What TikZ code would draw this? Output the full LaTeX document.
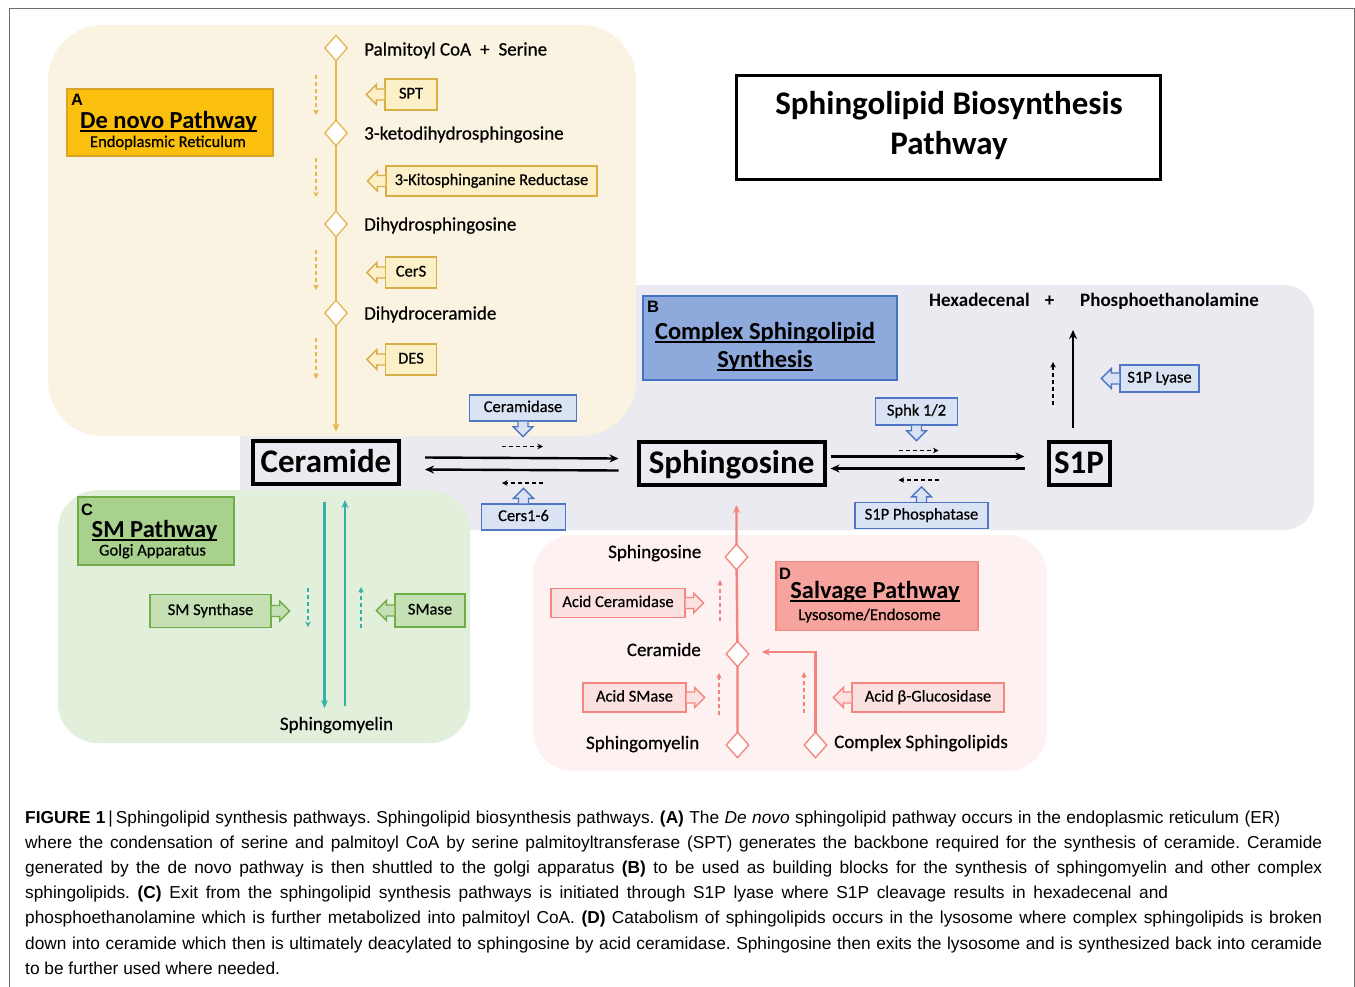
\documentclass[tikz,border=0pt]{standalone}
\usepackage{fontspec}
\setmainfont{Carlito}
\newfontfamily\capfont{Liberation Sans}
\newfontfamily\semib[FakeBold=0.5]{Carlito}
\usetikzlibrary{arrows.meta,shapes.geometric,calc}
\frenchspacing
\definecolor{panA}{HTML}{FBF3E2}
\definecolor{panB}{HTML}{EAEAF0}
\definecolor{panC}{HTML}{E2EFDA}
\definecolor{panD}{HTML}{FDF1F1}
\definecolor{yLine}{HTML}{E8B64E}
\definecolor{yFill}{HTML}{FCF0C8}
\definecolor{yBd}{HTML}{D9AE45}
\definecolor{colA}{HTML}{FBBF0E}
\definecolor{colAbd}{HTML}{D9A22A}
\definecolor{bFill}{HTML}{DAE3F3}
\definecolor{bBd}{HTML}{4F76C4}
\definecolor{colB}{HTML}{8EA9DB}
\definecolor{colBbd}{HTML}{4472C4}
\definecolor{gFill}{HTML}{C5E0B4}
\definecolor{gBd}{HTML}{70AD47}
\definecolor{colC}{HTML}{A9D18E}
\definecolor{tealA}{HTML}{33B2A6}
\definecolor{rFill}{HTML}{FBE2E0}
\definecolor{rBd}{HTML}{F4857F}
\definecolor{colD}{HTML}{F7A39E}
\definecolor{rLine}{HTML}{F4837D}
\definecolor{frameC}{HTML}{6E6E6E}
\newcommand\myul[1]{{\sbox0{#1}\rlap{\rule[-3.5pt]{\wd0}{1.7pt}}\usebox0}}
\newcommand\ptrL[2]{\filldraw[#2,line width=1.3pt,line join=miter] (#1.west) ++(0,5.5) -- ++(-8,0) -- ++(0,4.5) -- ++(-10,-10) -- ++(10,-10) -- ++(0,4.5) -- ++(8,0);}
\newcommand\ptrR[2]{\filldraw[#2,line width=1.3pt,line join=miter] (#1.east) ++(0,5.5) -- ++(8,0) -- ++(0,4.5) -- ++(10,-10) -- ++(-10,-10) -- ++(0,4.5) -- ++(-8,0);}
\newcommand\ptrD[2]{\filldraw[#2,line width=1.3pt,line join=miter] (#1.south) ++(5,0) -- ++(0,5) -- ++(5,0) -- ++(-10,10) -- ++(-10,-10) -- ++(5,0) -- ++(0,-5);}
\newcommand\ptrU[2]{\filldraw[#2,line width=1.3pt,line join=miter] (#1.north) ++(5,0) -- ++(0,-5) -- ++(5,0) -- ++(-10,-10) -- ++(-10,10) -- ++(5,0) -- ++(0,5);}
\begin{document}
\begin{tikzpicture}[x=1pt,y=-1pt,
  lbl/.style={inner sep=0pt,font=\semib\fontsize{19}{22}\selectfont},
  enz/.style={draw,line width=1.3pt,inner sep=0pt,font=\semib\fontsize{16.5}{19}\selectfont,text height=11pt,text depth=3pt},
  ybox/.style={enz,draw=yBd,fill=yFill},
  bbox/.style={enz,draw=bBd,fill=bFill},
  gbox/.style={enz,draw=gBd,fill=gFill},
  rbox/.style={enz,draw=rBd,fill=rFill},
  diam/.style={diamond,fill=white,line width=1.3pt,minimum width=23pt,minimum height=26pt,inner sep=0pt},
  big/.style={draw=black,line width=4pt,inner sep=0pt,font=\bfseries\fontsize{33}{40}\selectfont,text height=24pt,text depth=4pt},
  main/.style={line width=2.4pt,-{Stealth[length=9pt,width=8pt]}},
  dsh/.style={line width=1.1pt,dash pattern=on 4pt off 3pt,-{Stealth[length=5.5pt,width=5.5pt]}},
  labbox/.style={line width=1.3pt,inner sep=0pt},
  letter/.style={inner sep=0pt,anchor=base west,font=\capfont\bfseries\fontsize{16.5}{18}\selectfont},
  head/.style={inner sep=0pt,anchor=base,font=\bfseries\fontsize{24.5}{28}\selectfont},
  sub/.style={inner sep=0pt,anchor=base,font=\semib\fontsize{16.5}{19}\selectfont},
  capline/.style={inner sep=0pt,anchor=base west,font=\capfont\fontsize{17.3}{20}\selectfont}
]
\useasboundingbox (0,0) rectangle (1355,986);
\fill[white] (0,0) rectangle (1355,986);
\draw[frameC,line width=1.3pt] (9.5,990) -- (9.5,8.5) -- (1354.5,8.5) -- (1354.5,990);

% panels
\fill[panB,rounded corners=30pt] (240,285) rectangle (1314,530);
\fill[panA,rounded corners=55pt] (48,25) rectangle (636,436);
\fill[panC,rounded corners=40pt] (58,490) rectangle (470,743);
\fill[panD,rounded corners=40pt] (533,535) rectangle (1047,771);

% title
\node[draw,line width=3pt,minimum width=424pt,minimum height=104pt,inner sep=0pt] (title) at (948,127) {};
\node[inner sep=0pt,anchor=base,font=\bfseries\fontsize{33}{40}\selectfont] (title1) at (949,114) {Sphingolipid Biosynthesis};
\node[inner sep=0pt,anchor=base,font=\bfseries\fontsize{33}{40}\selectfont] (title2) at (949,154) {Pathway};

% main nodes
\node[big,minimum width=146pt,minimum height=43pt] (cer) at (326,462) {Ceramide};
\node[big,minimum width=186pt,minimum height=43pt] (sph) at (731.5,463) {Sphingosine};
\node[big,minimum width=61pt,minimum height=43pt] (s1p) at (1079,463) {S1P};

% ---------------- Panel A ----------------
\node[labbox,draw=colAbd,fill=colA,minimum width=206pt,minimum height=67pt] (labA) at (170,122.5) {};
\node[letter] (letA) at (71,105) {A};
\node[head] (headA) at (168.5,128) {\myul{De novo Pathway}};
\node[sub] (subA) at (168,147) {Endoplasmic Reticulum};

\coordinate (a1) at (336,48);
\coordinate (a2) at (336,133);
\coordinate (a3) at (336,224);
\coordinate (a4) at (336,313);
\draw[yLine,line width=2pt,-{Stealth[length=8pt,width=7pt]},shorten >=7pt] (a1) -- (a1 |- cer.north);
\node[diam,draw=yLine] (da1) at (a1) {};
\node[diam,draw=yLine] (da2) at (a2) {};
\node[diam,draw=yLine] (da3) at (a3) {};
\node[diam,draw=yLine] (da4) at (a4) {};
\node[lbl,anchor=base west] (tPal) at (364,55.5) {Palmitoyl CoA\hspace{9pt}+\hspace{9pt}Serine};
\node[lbl,anchor=base west] (tKeto) at (364,139.5) {3-ketodihydrosphingosine};
\node[lbl,anchor=base west] (tDhs) at (364,230.5) {Dihydrosphingosine};
\node[lbl,anchor=base west] (tDhc) at (364,319.5) {Dihydroceramide};

\draw[yLine,dsh] ($(da1)+(-20,27)$) -- ($(da2)+(-20,-18)$);
\draw[yLine,dsh] ($(da2)+(-20,25)$) -- ($(da3)+(-20,-27)$);
\draw[yLine,dsh] ($(da3)+(-20,26)$) -- ($(da4)+(-20,-23)$);
\draw[yLine,dsh] ($(da4)+(-20,25)$) -- ($(da4)+(-20,66)$);

\node[ybox,minimum width=52pt,minimum height=31pt] (spt) at (411,94.5) {SPT};
\node[ybox,minimum width=211pt,minimum height=30pt] (ksr) at (491.5,181) {3-Kitosphinganine Reductase};
\node[ybox,minimum width=51pt,minimum height=31pt] (cers) at (411,272.5) {CerS};
\node[ybox,minimum width=51pt,minimum height=31pt] (des) at (411,359.5) {DES};
\ptrL{spt}{draw=yBd,fill=yFill}
\ptrL{ksr}{draw=yBd,fill=yFill}
\ptrL{cers}{draw=yBd,fill=yFill}
\ptrL{des}{draw=yBd,fill=yFill}

% ---------------- Panel B ----------------
\node[labbox,draw=colBbd,fill=colB,minimum width=254pt,minimum height=84pt] (labB) at (770,338) {};
\node[letter] (letB) at (647,312) {B};
\node[head] (headB1) at (765,339) {\myul{Complex Sphingolipid}};
\node[head] (headB2) at (765,367) {\myul{Synthesis}};

\node[lbl,anchor=base west,font=\bfseries\fontsize{19}{22}\selectfont] (hexa) at (929,306) {Hexadecenal};
\node[lbl,anchor=base,font=\bfseries\fontsize{19}{22}\selectfont] (plus) at (1049.5,306) {+};
\node[lbl,anchor=base west,font=\bfseries\fontsize{19}{22}\selectfont] (phos) at (1080,306) {Phosphoethanolamine};

\node[bbox,minimum width=107pt,minimum height=26pt] (cdase) at (523,408) {Ceramidase};
\node[bbox,minimum width=84pt,minimum height=26pt] (cers16) at (523.5,517) {Cers1-6};
\node[bbox,minimum width=82pt,minimum height=27pt] (sphk) at (916.5,411.5) {Sphk 1/2};
\node[bbox,minimum width=133pt,minimum height=26pt] (s1pp) at (921.5,515.5) {S1P Phosphatase};
\node[bbox,minimum width=79pt,minimum height=27pt] (lyase) at (1159.5,378.5) {S1P Lyase};
\ptrD{cdase}{draw=bBd,fill=bFill}
\ptrU{cers16}{draw=bBd,fill=bFill}
\ptrD{sphk}{draw=bBd,fill=bFill}
\ptrU{s1pp}{draw=bBd,fill=bFill}
\ptrL{lyase}{draw=bBd,fill=bFill}

\draw[main] ($(cer.east)+(24,-4.5)$) -- ($(sph.west)+(-18,-4.5)$);
\draw[main] ($(sph.west)+(-18,7.5)$) -- ($(cer.east)+(24,7.5)$);
\draw[main] ($(sph.east)+(4,-6.5)$) -- ($(s1p.west)+(-22,-6.5)$);
\draw[main] ($(s1p.west)+(-22,5.5)$) -- ($(sph.east)+(4,5.5)$);
\coordinate (lyTop) at (1073,330);
\coordinate (lyBot) at (1073,428);
\draw[main] (lyBot) -- (lyTop);

\draw[dsh] ($(cer.east)+(101,-15.5)$) -- ++(41,0);
\draw[dsh] ($(cer.east)+(142,21)$) -- ++(-41,0);
\draw[dsh] ($(sph.east)+(72,-12.5)$) -- ++(40,0);
\draw[dsh] ($(sph.east)+(112,17)$) -- ++(-40,0);
\draw[dsh] ($(lyBot)+(-20,-23)$) -- ($(lyTop)+(-20,32)$);

% ---------------- Panel C ----------------
\node[labbox,draw=gBd,fill=colC,minimum width=156pt,minimum height=68pt] (labC) at (156,531) {};
\node[letter] (letC) at (81,515) {C};
\node[head] (headC) at (154.5,537) {\myul{SM Pathway}};
\node[sub] (subC) at (152.5,555.5) {Golgi Apparatus};

\node[lbl,anchor=base] (smC) at (336.5,730) {Sphingomyelin};
\coordinate (tdn1) at (324.5,502);
\coordinate (tdn2) at (324.5,708);
\coordinate (tup1) at (345,706);
\coordinate (tup2) at (345,500);
\draw[tealA,line width=2.2pt,-{Stealth[length=8pt,width=7pt]}] (tdn1) -- (tdn2);
\draw[tealA,line width=2.2pt,-{Stealth[length=8pt,width=7pt]}] (tup1) -- (tup2);
\draw[tealA,dsh] (308,588) -- (308,627);
\draw[tealA,dsh] (361,628) -- (361,587);

\node[gbox,minimum width=121pt,minimum height=33pt] (sms) at (210.5,611) {SM Synthase};
\node[gbox,minimum width=70pt,minimum height=33pt] (smase) at (430,610.5) {SMase};
\ptrR{sms}{draw=gBd,fill=gFill}
\ptrL{smase}{draw=gBd,fill=gFill}

% ---------------- Panel D ----------------
\node[labbox,draw=rBd,fill=colD,minimum width=202pt,minimum height=69pt] (labD) at (877,596) {};
\node[letter] (letD) at (779,579) {D};
\node[head] (headD) at (875,598) {\myul{Salvage Pathway}};
\node[sub] (subD) at (869.5,620) {Lysosome/Endosome};

\coordinate (r1) at (736.5,557);
\coordinate (r2) at (737.5,654);
\coordinate (r3) at (737.5,745);
\coordinate (r4) at (815.5,745);
\coordinate (rTop) at (736.5,505);
\coordinate (rEl) at (815.5,652);
\coordinate (rTip) at (762,652);
\draw[rLine,line width=2.4pt,-{Stealth[length=8pt,width=7pt]}] (r3) -- (r2) -- (r1) -- (rTop);
\draw[rLine,line width=2.4pt,-{Stealth[length=8pt,width=7pt]}] (r4) -- (rEl) -- (rTip);
\node[diam,draw=rLine] (dr1) at (r1) {};
\node[diam,draw=rLine] (dr2) at (r2) {};
\node[diam,draw=rLine] (dr3) at (r3) {};
\node[diam,draw=rLine] (dr4) at (r4) {};

\node[lbl,anchor=base east] (tSphD) at (701.5,558) {Sphingosine};
\node[lbl,anchor=base east] (tCerD) at (701,656) {Ceramide};
\node[lbl,anchor=base east] (tSmD) at (699.5,749) {Sphingomyelin};
\node[lbl,anchor=base west] (tCsD) at (834,748) {Complex Sphingolipids};

\node[rbox,minimum width=134pt,minimum height=29pt] (acdase) at (618,603) {Acid Ceramidase};
\node[rbox,minimum width=103pt,minimum height=29pt] (asmase) at (634.5,697.5) {Acid SMase};
\node[rbox,minimum width=152pt,minimum height=29pt] (agluc) at (928,697.5) {Acid β-Glucosidase};
\ptrR{acdase}{draw=rBd,fill=rFill}
\ptrR{asmase}{draw=rBd,fill=rFill}
\ptrL{agluc}{draw=rBd,fill=rFill}
\draw[rLine,dsh] (720,621) -- (720,580);
\draw[rLine,dsh] (719,715) -- (719,673);
\draw[rLine,dsh] (804,713) -- (804,672);

% ---------------- Caption ----------------
\node[capline] (cap1) at (25,823) {\hbox to 1255pt{\textbf{FIGURE 1}\,|\,Sphingolipid synthesis pathways. Sphingolipid biosynthesis pathways. \textbf{(A)} The \textit{De novo} sphingolipid pathway occurs in the endoplasmic reticulum (ER)}};
\node[capline] (cap2) at (25,848.2) {\hbox to 1297pt{where the condensation of serine and palmitoyl CoA by serine palmitoyltransferase (SPT) generates the backbone required for the synthesis of ceramide. Ceramide}};
\node[capline] (cap3) at (25,873.4) {\hbox to 1297pt{generated by the de novo pathway is then shuttled to the golgi apparatus \textbf{(B)} to be used as building blocks for the synthesis of sphingomyelin and other complex}};
\node[capline] (cap4) at (25,898.6) {\hbox to 1143pt{sphingolipids. \textbf{(C)} Exit from the sphingolipid synthesis pathways is initiated through S1P lyase where S1P cleavage results in hexadecenal and}};
\node[capline] (cap5) at (25,923.8) {\hbox to 1297pt{phosphoethanolamine which is further metabolized into palmitoyl CoA. \textbf{(D)} Catabolism of sphingolipids occurs in the lysosome where complex sphingolipids is broken}};
\node[capline] (cap6) at (25,949) {\hbox to 1297pt{down into ceramide which then is ultimately deacylated to sphingosine by acid ceramidase. Sphingosine then exits the lysosome and is synthesized back into ceramide}};
\node[capline] (cap7) at (25,974.2) {to be further used where needed.};
\end{tikzpicture}
\end{document}
